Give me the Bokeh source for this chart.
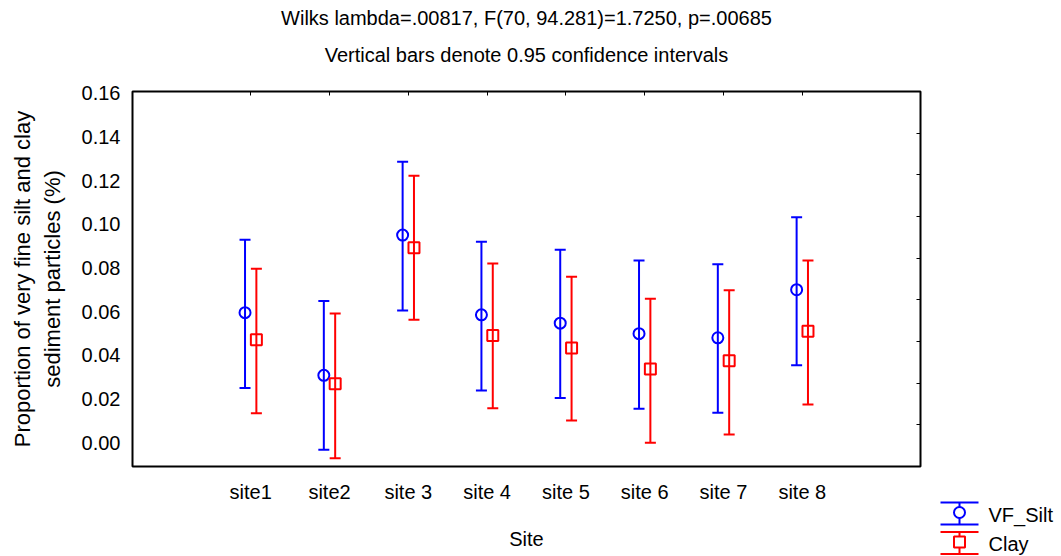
from bokeh.plotting import figure
from bokeh.models import (FactorRange, Range1d, FixedTicker, NumeralTickFormatter,
                          LinearAxis, CategoricalAxis, Spacer, ColumnDataSource)
from bokeh.transform import dodge
from bokeh.layouts import row, column
from bokeh.core.properties import value
from bokeh.embed import file_html
from bokeh.resources import INLINE

# ---------------- data ----------------
sites = ["site1", "site2", "site 3", "site 4", "site 5", "site 6", "site 7", "site 8"]

vf_mean = [0.0596, 0.0309, 0.0951, 0.0586, 0.0548, 0.0500, 0.0481, 0.0701]
vf_low = [0.0251, -0.0031, 0.0606, 0.0240, 0.0205, 0.0156, 0.0138, 0.0355]
vf_high = [0.0930, 0.0649, 0.1286, 0.0920, 0.0884, 0.0835, 0.0817, 0.1033]

clay_mean = [0.0472, 0.0271, 0.0893, 0.0492, 0.0434, 0.0338, 0.0376, 0.0511]
clay_low = [0.0136, -0.0070, 0.0564, 0.0159, 0.0102, 0.0001, 0.0039, 0.0176]
clay_high = [0.0797, 0.0592, 0.1222, 0.0821, 0.0760, 0.0660, 0.0698, 0.0835]

y_ticks = [0.00, 0.02, 0.04, 0.06, 0.08, 0.10, 0.12, 0.14, 0.16]
frame_ticks = [1, 2, 3, 4, 5, 6, 7, 8]

series_names = ["VF_Silt", "Clay"]
series_colors = ["#0000FF", "#FF0000"]
series_markers = ["circle", "square"]
series_offsets = [-0.072, 0.072]

titles = ["Wilks lambda=.00817, F(70, 94.281)=1.7250, p=.00685",
          "Vertical bars denote 0.95 confidence intervals"]
x_label = "Site"
y_label = "Proportion of very fine silt and clay\nsediment particles (%)"

FONT = "Liberation Sans"
FS = "20px"
TOP = 70  # height of the title strip

# ---------------- title strip ----------------
tf = figure(width=1061, height=TOP, x_range=Range1d(0, 1061), y_range=Range1d(TOP, 0),
            output_backend="svg", toolbar_location=None, min_border=0,
            x_axis_type=None, y_axis_type=None, outline_line_color=None)
tf.grid.visible = False
tf.background_fill_color = "white"
tf.border_fill_color = "white"
tf.text(x=[526, 526], y=[17, 54], text=titles, text_font=value(FONT), text_font_size=FS,
        text_align="center", text_baseline="middle", text_color="black")

# ---------------- main figure ----------------
p = figure(x_range=FactorRange(*sites, range_padding=1, range_padding_units="absolute"),
           y_range=Range1d(-0.0108, 0.1608),
           width=933, height=556 - TOP, output_backend="svg", toolbar_location=None,
           title_location=None,
           min_border_left=132, min_border_right=13, min_border_top=91 - TOP, min_border_bottom=90)
p.background_fill_color = "white"
p.border_fill_color = "white"
p.outline_line_color = "black"
p.outline_line_width = 2
p.grid.visible = False

# bottom axis
xa = p.xaxis[0]
xa.axis_line_color = None
xa.major_tick_in = 0
xa.major_tick_out = 0
xa.major_label_standoff = 14
xa.major_label_text_font = FONT
xa.major_label_text_font_size = FS
xa.major_label_text_color = "black"
xa.axis_label = x_label
xa.axis_label_standoff = 22
xa.axis_label_text_font = FONT
xa.axis_label_text_font_size = FS
xa.axis_label_text_font_style = "normal"
xa.axis_label_text_color = "black"

# left axis
ya = p.yaxis[0]
ya.ticker = FixedTicker(ticks=y_ticks)
ya.formatter = NumeralTickFormatter(format="0.00")
ya.axis_line_color = None
ya.major_tick_in = 0
ya.major_tick_out = 0
ya.minor_tick_in = 0
ya.minor_tick_out = 0
ya.major_label_standoff = 12
ya.major_label_text_font = FONT
ya.major_label_text_font_size = FS
ya.major_label_text_color = "black"
ya.axis_label = y_label
ya.axis_label_standoff = 14
ya.axis_label_text_font = FONT
ya.axis_label_text_font_size = "22px"
ya.axis_label_text_font_style = "normal"
ya.axis_label_text_color = "black"

# mirrored tick marks (top and right), inward, without labels
top_ax = CategoricalAxis(axis_line_color=None, major_tick_in=4, major_tick_out=0,
                         major_label_text_color=None, major_label_text_alpha=0,
                         major_label_text_font_size="1px", major_label_standoff=0)
p.add_layout(top_ax, "above")

p.extra_y_ranges = {"frac": Range1d(0, 9)}
right_ax = LinearAxis(y_range_name="frac", ticker=FixedTicker(ticks=frame_ticks),
                      axis_line_color=None, major_tick_in=4, major_tick_out=0,
                      minor_tick_in=0, minor_tick_out=0,
                      major_label_text_color=None, major_label_text_alpha=0,
                      major_label_text_font_size="1px", major_label_standoff=0)
p.add_layout(right_ax, "right")

series = [(vf_mean, vf_low, vf_high), (clay_mean, clay_low, clay_high)]
for (m, lo, hi), col, mk, off in zip(series, series_colors, series_markers, series_offsets):
    src = ColumnDataSource(dict(site=sites, mean=m, low=lo, high=hi))
    xs = dodge("site", off, range=p.x_range)
    p.segment(x0=xs, y0="low", x1=xs, y1="high", source=src, line_color=col, line_width=2)
    p.scatter(x=xs, y="low", marker="dash", size=11, source=src, line_color=col, line_width=2)
    p.scatter(x=xs, y="high", marker="dash", size=11, source=src, line_color=col, line_width=2)
    p.scatter(x=xs, y="mean", marker=mk, size=11, source=src, line_color=col,
              fill_color=None, line_width=2)

# ---------------- legend (separate small figure) ----------------
leg = figure(width=128, height=66, x_range=Range1d(0, 128), y_range=Range1d(66, 0),
             output_backend="svg", toolbar_location=None, min_border=0,
             x_axis_type=None, y_axis_type=None, outline_line_color=None)
leg.grid.visible = False
leg.background_fill_color = "white"
leg.border_fill_color = "white"

centers = [23.0, 52.5]
for i, (name, col, mk) in enumerate(zip(series_names, series_colors, series_markers)):
    c = centers[i]
    h = 11.0
    leg.segment(x0=[7, 7, 26], y0=[c - h, c + h, c - h], x1=[45, 45, 26], y1=[c - h, c + h, c + h],
                line_color=col, line_width=2)
    leg.scatter(x=[26], y=[c - 1], marker=mk, size=11, line_color=col, fill_color="white", line_width=2)
    leg.text(x=[55], y=[c + 1], text=[name], text_font=value(FONT), text_font_size=FS,
             text_baseline="middle", text_align="left", text_color="black")

layout = column(tf, row(p, column(Spacer(width=128, height=490 - TOP), leg)))

open("out.html", "w").write(file_html(layout, INLINE))
